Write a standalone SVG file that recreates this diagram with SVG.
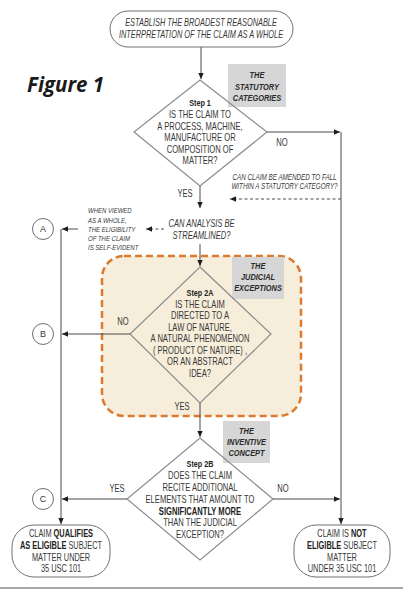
<svg xmlns="http://www.w3.org/2000/svg" width="403" height="594" viewBox="0 0 403 594">
<defs>
<marker id="ah" markerWidth="6" markerHeight="6" refX="6" refY="3" orient="auto" markerUnits="userSpaceOnUse"><path d="M0,0.3 L6,3 L0,5.7 z" fill="#1e1e1e"/></marker>
<style>
.t{font-family:"Liberation Sans",Arial,sans-serif;font-size:10px;fill:#383838;text-anchor:middle}
.ti{font-family:"Liberation Sans",Arial,sans-serif;font-style:italic;fill:#383838;text-anchor:middle}
.tl{font-family:"Liberation Sans",Arial,sans-serif;font-style:italic;font-size:7.8px;fill:#383838;text-anchor:start}
.b{font-weight:bold;fill:#222}
.lab{font-family:"Liberation Sans",Arial,sans-serif;font-style:italic;font-weight:bold;font-size:9.5px;fill:#2a2a2a;text-anchor:middle}
.ln{fill:none;stroke:#4a4a4a;stroke-width:1}
.dash{fill:none;stroke:#4a4a4a;stroke-width:1;stroke-dasharray:3 2.5}
.dia{fill:none;stroke:#8c8c8c;stroke-width:1.2}
.box{fill:#fff;stroke:#707070;stroke-width:1}
.gray{fill:#d6d6d6}
.circ{fill:#fff;stroke:#707070;stroke-width:1}
</style>
</defs>
<rect width="403" height="594" fill="#fff"/>

<g id="exceptions-region">
<rect x="102" y="256" width="199" height="160" rx="22" fill="#f6eedb" stroke="#dc7a30" stroke-width="2.5" stroke-dasharray="7 4"/>
</g>

<g id="figure-title"><text x="27" y="92" style="font-family:'Open Sans','Noto Sans',sans-serif;font-weight:bold;font-style:italic;font-size:20.5px;fill:#1a1a1a">Figure 1</text></g>

<g id="connectors">
<path class="ln" d="M201,47 V79" marker-end="url(#ah)"/>
<path class="ln" d="M267,132 H340" marker-end="url(#ah)"/>
<path class="ln" d="M341,132 V524" marker-end="url(#ah)"/>
<path class="dash" d="M341,199 H230" marker-end="url(#ah)"/>
<path class="ln" d="M200,186 V208" marker-end="url(#ah)"/>
<path class="ln" d="M200,244 V266" marker-end="url(#ah)"/>
<path class="dash" d="M164,229 H146" marker-end="url(#ah)"/>
<path class="ln" d="M78,229 H62" marker-end="url(#ah)"/>
<path class="ln" d="M61,229 V524" marker-end="url(#ah)"/>
<path class="ln" d="M130,334 H62" marker-end="url(#ah)"/>
<path class="ln" d="M200,403 V437" marker-end="url(#ah)"/>
<path class="ln" d="M127,499 H62" marker-end="url(#ah)"/>
<path class="ln" d="M273,499 H340" marker-end="url(#ah)"/>
<g transform="translate(185,0) scale(0.76,1)"><text class="t" x="0" y="197.5">YES</text></g>
<g transform="translate(282,0) scale(0.76,1)"><text class="t" x="0" y="146.5">NO</text></g>
<g transform="translate(123,0) scale(0.76,1)"><text class="t" x="0" y="325.5">NO</text></g>
<g transform="translate(182,0) scale(0.76,1)"><text class="t" x="0" y="410.5">YES</text></g>
<g transform="translate(117,0) scale(0.76,1)"><text class="t" x="0" y="492.5">YES</text></g>
<g transform="translate(283,0) scale(0.76,1)"><text class="t" x="0" y="492.5">NO</text></g>
<g transform="translate(284.5,0) scale(0.76,1)">
<text class="ti" style="font-size:8.3px" x="0" y="180">CAN CLAIM BE AMENDED TO FALL</text>
<text class="ti" style="font-size:8.3px" x="0" y="189">WITHIN A STATUTORY CATEGORY?</text>
</g>
<g transform="translate(88,0) scale(0.77,1)">
<text class="tl" x="0" y="213.5">WHEN VIEWED</text>
<text class="tl" x="0" y="222.7">AS A WHOLE,</text>
<text class="tl" x="0" y="232">THE ELIGIBILITY</text>
<text class="tl" x="0" y="241.3">OF THE CLAIM</text>
<text class="tl" x="0" y="250.5">IS SELF-EVIDENT</text>
</g>
</g>

<g id="start">
<rect class="box" x="110" y="11" width="183" height="36" rx="18"/>
<g transform="translate(201,0) scale(0.74,1)">
<text class="ti" style="font-size:10px" x="0" y="26.5">ESTABLISH THE BROADEST REASONABLE</text>
<text class="ti" style="font-size:10px" x="0" y="38.5">INTERPRETATION OF THE CLAIM AS A WHOLE</text>
</g>
</g>

<g id="statutory-label">
<rect class="gray" x="228" y="64" width="58" height="43"/>
<g transform="translate(257,0) scale(0.78,1)">
<text class="lab" x="0" y="78.4">THE</text>
<text class="lab" x="0" y="89.9">STATUTORY</text>
<text class="lab" x="0" y="101.4">CATEGORIES</text>
</g>
</g>

<g id="step1">
<polygon class="dia" points="200,80 267,132 200,186 134,132"/>
<g transform="translate(200,0) scale(0.76,1)">
<text class="t b" style="font-size:9.5px" x="0" y="106.5">Step 1</text>
<text class="t" x="0" y="118.5">IS THE CLAIM TO</text>
<text class="t" x="0" y="130">A PROCESS, MACHINE,</text>
<text class="t" x="0" y="141.5">MANUFACTURE OR</text>
<text class="t" x="0" y="153">COMPOSITION OF</text>
<text class="t" x="0" y="164.5">MATTER?</text>
</g>
</g>

<g id="streamline">
<g transform="translate(201.5,0) scale(0.72,1)">
<text class="ti" style="font-size:10.5px" x="0" y="226.7">CAN ANALYSIS BE</text>
<text class="ti" style="font-size:10.5px" x="0" y="238.7">STREAMLINED?</text>
</g>
</g>

<g id="circle-a"><circle class="circ" cx="43" cy="229" r="10.5"/><text class="t" style="font-size:9px" x="43" y="232.3">A</text></g>
<g id="circle-b"><circle class="circ" cx="43" cy="334" r="10.5"/><text class="t" style="font-size:9px" x="43" y="337.3">B</text></g>
<g id="circle-c"><circle class="circ" cx="43" cy="499" r="10.5"/><text class="t" style="font-size:9px" x="43" y="502.3">C</text></g>

<g id="judicial-label">
<rect class="gray" x="232" y="257" width="52" height="42"/>
<g transform="translate(258,0) scale(0.78,1)">
<text class="lab" x="0" y="269.4">THE</text>
<text class="lab" x="0" y="280.4">JUDICIAL</text>
<text class="lab" x="0" y="291.4">EXCEPTIONS</text>
</g>
</g>

<g id="step2a">
<polygon class="dia" points="200,267 271,334 200,403 130,334"/>
<g transform="translate(200,0) scale(0.76,1)">
<text class="t b" style="font-size:9.5px" x="0" y="296.4">Step 2A</text>
<text class="t" x="0" y="308">IS THE CLAIM</text>
<text class="t" x="0" y="319.5">DIRECTED TO A</text>
<text class="t" x="0" y="331">LAW OF NATURE,</text>
<text class="t" x="0" y="342.5">A NATURAL PHENOMENON</text>
<text class="t" x="0" y="354">( PRODUCT OF NATURE) ,</text>
<text class="t" x="0" y="365.5">OR AN ABSTRACT</text>
<text class="t" x="0" y="377">IDEA?</text>
</g>
</g>

<g id="inventive-label">
<rect class="gray" x="223" y="421" width="47" height="42"/>
<g transform="translate(246.5,0) scale(0.78,1)">
<text class="lab" x="0" y="434.4">THE</text>
<text class="lab" x="0" y="445.4">INVENTIVE</text>
<text class="lab" x="0" y="456.4">CONCEPT</text>
</g>
</g>

<g id="step2b">
<polygon class="dia" points="200,438 273,499 200,560 127,499"/>
<g transform="translate(200,0) scale(0.76,1)">
<text class="t b" style="font-size:9.5px" x="0" y="466.9">Step 2B</text>
<text class="t" x="0" y="479">DOES THE CLAIM</text>
<text class="t" x="0" y="491">RECITE ADDITIONAL</text>
<text class="t" x="0" y="503">ELEMENTS THAT AMOUNT TO</text>
<text class="t b" x="0" y="515">SIGNIFICANTLY MORE</text>
<text class="t" x="0" y="526.5">THAN THE JUDICIAL</text>
<text class="t" x="0" y="538">EXCEPTION?</text>
</g>
</g>

<g id="eligible">
<rect class="box" x="12" y="525" width="98" height="52" rx="22"/>
<g transform="translate(61,0) scale(0.74,1)">
<text class="t" x="0" y="537.5">CLAIM <tspan class="b">QUALIFIES</tspan></text>
<text class="t" x="0" y="549.5"><tspan class="b">AS ELIGIBLE</tspan> SUBJECT</text>
<text class="t" x="0" y="561">MATTER UNDER</text>
<text class="t" x="0" y="572.5">35 USC 101</text>
</g>
</g>

<g id="not-eligible">
<rect class="box" x="294" y="525" width="96" height="52" rx="22"/>
<g transform="translate(342,0) scale(0.74,1)">
<text class="t" x="0" y="537.5">CLAIM IS <tspan class="b">NOT</tspan></text>
<text class="t" x="0" y="549.5"><tspan class="b">ELIGIBLE</tspan> SUBJECT</text>
<text class="t" x="0" y="561">MATTER</text>
<text class="t" x="0" y="572.5">UNDER 35 USC 101</text>
</g>
</g>

<line x1="0" y1="588" x2="403" y2="588" stroke="#8a8a8a" stroke-width="1.5"/>
</svg>
